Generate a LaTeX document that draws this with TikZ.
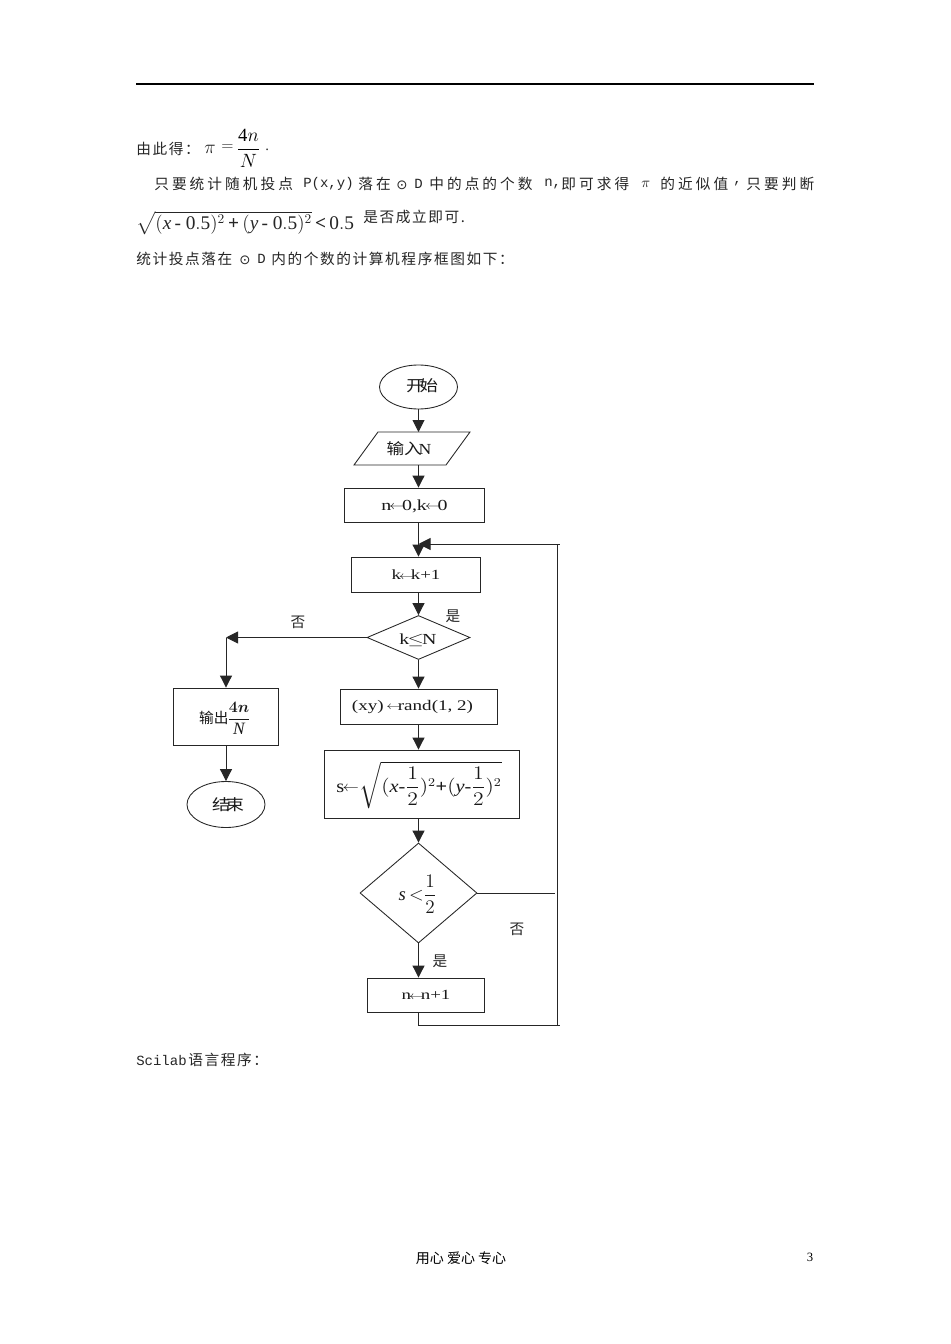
\documentclass[tikz,border=0pt]{standalone}
\usepackage{amsmath}
\usepackage{graphicx}
\usepackage{fontspec}
\setmainfont{Liberation Serif}
\newfontfamily\cjk{Noto Sans CJK SC}
\newfontfamily\cjks[LetterSpace=21]{Noto Sans CJK SC}
\newfontfamily\cjkm[LetterSpace=11]{Noto Sans CJK SC}
\newfontfamily\mono{Liberation Mono}
\newfontfamily\djv{DejaVu Sans}
\usetikzlibrary{arrows.meta,shapes.geometric}
\newcommand{\wide}[2][1.25]{\scalebox{#1}[1]{#2}}
\newcommand{\la}{\kern-1.2pt\raisebox{0.4pt}{\scalebox{0.75}{$\leftarrow$}}\kern-1.6pt}
\newcommand{\monof}{\mono\fontsize{10.5}{12}\selectfont}
\newcommand{\bplus}{\text{\textbf{+}}}
\tikzset{
  px/.style={x=0.75pt,y=-0.75pt},
  body/.style={inner sep=0pt,anchor=west,font=\fontsize{11}{13}\selectfont,text=black!85},
  flabel/.style={inner sep=0pt,font=\fontsize{11}{12}\selectfont\cjk,text=black!85},
  ftext/.style={inner sep=0pt,font=\fontsize{11.5}{13}\selectfont,text=black!90},
  shapeline/.style={draw=black!85,line width=0.65pt},
  conn/.style={draw=black!85,line width=0.7pt},
  arr/.style={conn,-{Triangle[width=9pt,length=9pt]}}
}
\begin{document}
\begin{tikzpicture}[px]
\useasboundingbox (0,0) rectangle (950,1344);
\fill[white] (0,0) rectangle (950,1344);
% header rule
\coordinate (ruleL) at (136,84);
\coordinate (ruleR) at (814,84);
\draw[black,line width=0.8pt] (ruleL) -- (ruleR);
% paragraph text
\node[body] (t1) at (136,149) {\cjkm 由此得：};
\node[body,font=\fontsize{14}{14}\selectfont] (pi) at (204,149) {$\pi$};
\node[body,font=\fontsize{13}{14}\selectfont] (eq) at (221,148) {$=$};
\node[inner sep=0pt,font=\fontsize{14}{14}\selectfont] (fr1) at (248.5,148) {$\dfrac{\mathrm{4}n}{N}$};
\node[body] (dot1) at (265,150) {.};
\node[body] (l2a) at (154,184) {\cjks 只要统计随机投点};
\node[body] (l2b) at (303,184) {\monof P(x,y)};
\node[body] (l2c) at (358,184) {\cjks 落在};
\node[body] (l2d0) at (396,185) {\djv\fontsize{10}{10}\selectfont ⊙};
\node[body] (l2d) at (414,184) {\monof D};
\node[body] (l2e) at (429,184) {\cjks 中的点的个数};
\node[body] (l2f) at (544,184) {\monof n,};
\node[body] (l2g) at (561,184) {\cjks 即可求得};
\node[body] (l2h) at (641,184) {\monof $\pi$};
\node[body] (l2i) at (660,184) {\cjks 的近似值};
\node[body] (l2j) at (733,184) {\monof ,};
\node[body] (l2k) at (746,184) {\cjks 只要判断};
\node[body,font=\fontsize{14.5}{15}\selectfont] (root) at (136,223) {$\sqrt{(\mathit{x}\,\text{-}\ \mathrm{0.5})^{2}\,\bplus\,(\mathit{y}\,\text{-}\ \mathrm{0.5})^{2}}\,\textbf{<}\,\mathrm{0.5}$};
\node[body] (l3b) at (363,217) {\cjkm 是否成立即可.};
\node[body] (l4a) at (136,259) {\cjkm 统计投点落在};
\node[body] (l4b0) at (239,260) {\djv\fontsize{10}{10}\selectfont ⊙};
\node[body] (l4b) at (257,259) {\monof D};
\node[body] (l4c) at (271,259) {\cjkm 内的个数的计算机程序框图如下：};
\node[body] (l5a) at (136,1060) {\monof Scilab};
\node[body] (l5b) at (188,1060) {\cjkm 语言程序：};
% footer
\node[inner sep=0pt,font=\fontsize{10.5}{12}\selectfont\cjk] (foot) at (461,1258) {用心 爱心 专心};
\node[inner sep=0pt,font=\fontsize{9.5}{10}\selectfont] (pg) at (810,1257) {3};

% flowchart shapes
\node[ellipse,shapeline,minimum width=58.5pt,minimum height=33pt,inner sep=0pt] (start) at (418.5,387) {};
\node[ftext,font=\fontsize{11.5}{13}\selectfont\cjk] (startL) at (422,386) {\wide[1.2]{开\kern-3pt始}};
\coordinate (pa) at (378,432); \coordinate (pb) at (470,432);
\coordinate (pc) at (446,465); \coordinate (pd) at (354,465);
\draw[shapeline] (pa) -- (pb) -- (pc) -- (pd) -- cycle;
\coordinate (inT) at (418.5,432); \coordinate (inB) at (418.5,465);
\node[ftext] (inL) at (409,449) {\wide[1.15]{{\cjk 输入}\kern-2pt N}};
\node[rectangle,shapeline,minimum width=105pt,minimum height=25.5pt,inner sep=0pt] (init) at (414,505) {};
\node[ftext] (initL) at (414.5,506) {\wide[1.3]{n\la 0,k\la 0}};
\node[rectangle,shapeline,minimum width=96.75pt,minimum height=26.25pt,inner sep=0pt] (inc) at (415.5,574.5) {};
\node[ftext,font=\fontsize{10.5}{12}\selectfont] (incL) at (416,575) {\wide[1.35]{k\la k+1}};
\node[diamond,shapeline,minimum width=77.25pt,minimum height=33pt,inner sep=0pt,aspect=2.3] (test) at (418.5,637.5) {};
\node[ftext] (testL) at (418,640) {\wide[1.3]{k\kern-1pt$\leq$\kern-1pt N}};
\node[rectangle,shapeline,minimum width=117.75pt,minimum height=26.25pt,inner sep=0pt] (rnd) at (418.5,706.5) {};
\node[ftext,font=\fontsize{11}{12}\selectfont] (rndL) at (412.5,707) {\wide[1.3]{(xy) \la rand(1, 2)}};
\node[rectangle,shapeline,minimum width=146.25pt,minimum height=51pt,inner sep=0pt] (calc) at (421.5,784) {};
\node[ftext,font=\fontsize{13.5}{15}\selectfont] (calcL) at (419,785) {\wide[1.13]{s\la\,$\sqrt{(\mathit{x}\text{-}\dfrac{1}{2})^{2}\bplus(\mathit{y}\text{-}\dfrac{1}{2})^{2}}$}};
\node[diamond,shapeline,minimum width=87.75pt,minimum height=75pt,inner sep=0pt,aspect=1.17] (test2) at (418.5,893) {};
\node[ftext,font=\fontsize{14}{15}\selectfont] (test2L) at (417.5,894) {$\mathit{s}\,{<}\dfrac{1}{2}$};
\node[rectangle,shapeline,minimum width=87.75pt,minimum height=25.5pt,inner sep=0pt] (cnt) at (425.5,995) {};
\node[ftext,font=\fontsize{10.5}{12}\selectfont] (cntL) at (426,995) {\wide[1.35]{n\la n+1}};
\node[rectangle,shapeline,minimum width=78.75pt,minimum height=42.75pt,inner sep=0pt] (out) at (225.5,716.5) {};
\node[ftext,font=\fontsize{13}{15}\selectfont] (outL) at (225,718) {{\cjk\fontsize{11}{12}\selectfont 输出}\kern-1pt$\dfrac{\boldsymbol{4n}}{\mathit{N}}$};
\node[ellipse,shapeline,minimum width=58.5pt,minimum height=34.5pt,inner sep=0pt] (stop) at (226,804.5) {};
\node[ftext,font=\fontsize{11.5}{13}\selectfont\cjk] (stopL) at (228,805) {\wide[1.2]{结\kern-3pt束}};
% labels
\node[flabel] (y1) at (453,616) {是};
\node[flabel] (n1) at (298,622) {否};
\node[flabel] (n2) at (517,929) {否};
\node[flabel] (y2) at (440,961) {是};
% connector helper points
\coordinate (join) at (418.5,544);
\coordinate (fbTop) at (559.5,544);
\coordinate (fbV) at (557,544);
\coordinate (fbBot) at (557,1025);
\coordinate (fbEnd) at (560,1025);
\coordinate (cntDrop) at (418.5,1025);
\coordinate (test2R) at (555,893);
\coordinate (leftCorner) at (226,637.5);
% connectors
\draw[arr] (start.south -| inT) -- (inT);
\draw[arr] (inB) -- (inB |- init.north);
\draw[arr] (init.south -| join) -- (join |- inc.north);
\draw[arr] (inc.south -| test.north) -- (test.north);
\draw[arr] (test.south) -- (test.south |- rnd.north);
\draw[arr] (rnd.south -| test.south) -- (test.south |- calc.north);
\draw[arr] (calc.south -| test2.north) -- (test2.north);
\draw[arr] (test2.south) -- (test2.south |- cnt.north);
\draw[arr] (test.west) -- (leftCorner);
\draw[arr] (leftCorner) -- (leftCorner |- out.north);
\draw[arr] (out.south -| stop.north) -- (stop.north);
\draw[arr] (fbTop) -- (join);
\draw[conn] (fbV) -- (fbBot);
\draw[conn] (cnt.south -| cntDrop) -- (cntDrop) -- (fbEnd);
\draw[conn] (test2.east) -- (test2R);
\end{tikzpicture}
\end{document}
